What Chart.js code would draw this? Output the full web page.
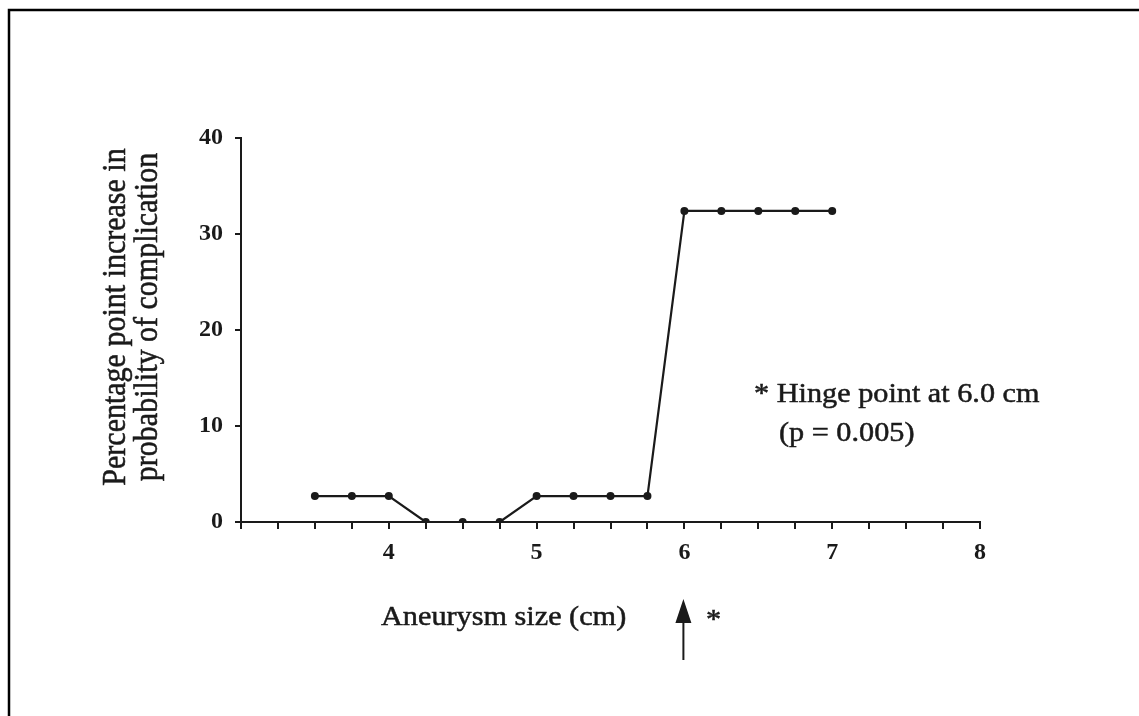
<!DOCTYPE html>
<html>
<head>
<meta charset="utf-8">
<script src="https://cdn.jsdelivr.net/npm/chart.js@4/dist/chart.umd.min.js"></script>
<style>
    body { margin: 0; background: #fff; }
    canvas { display: block; }
</style>
</head>
<body>
<canvas id="chart" width="1139" height="716"></canvas>
<script>
// values
const sizes = [3.5, 3.75, 4, 4.25, 4.5, 4.75, 5, 5.25, 5.5, 5.75, 6, 6.25, 6.5, 6.75, 7];
const increase = [2.7, 2.7, 2.7, 0, 0, 0, 2.7, 2.7, 2.7, 2.7, 32.4, 32.4, 32.4, 32.4, 32.4];
const xLabels = [4, 5, 6, 7, 8];
const yLabels = [0, 10, 20, 30, 40];
const hingeAt = 6;

const ink = '#1a1a1a';
const serif = '"Liberation Serif", "DejaVu Serif", serif';
const stretch = 1.12; // the scanned figure is a bit wider than tall

// draw text a bit wider and heavier, like the scan
function wideText(ctx, text, x, y, size) {
    ctx.save();
    ctx.translate(x, y);
    ctx.scale(stretch, 1);
    ctx.font = size + 'px ' + serif;
    ctx.fillText(text, 0, 0);
    ctx.lineWidth = 0.5;
    ctx.strokeText(text, 0, 0);
    ctx.restore();
}

// texts, frame and arrow that sit outside the axes
const extras = {
    id: 'extras',
    afterDraw(chart) {
        const ctx = chart.ctx;
        const x = chart.scales.x;
        ctx.save();
        ctx.fillStyle = ink;
        ctx.strokeStyle = '#000';

        // frame (top and left only)
        ctx.lineWidth = 2.5;
        ctx.beginPath();
        ctx.moveTo(9, 716);
        ctx.lineTo(9, 10);
        ctx.lineTo(1139, 10);
        ctx.stroke();

        ctx.strokeStyle = ink;
        ctx.textBaseline = 'alphabetic';
        ctx.textAlign = 'left';
        wideText(ctx, 'Aneurysm size (cm)', 381, 625, 27);
        wideText(ctx, '* Hinge point at 6.0 cm', 754, 402, 27);
        wideText(ctx, '(p = 0.005)', 779, 441, 27);
        wideText(ctx, '*', 706, 628, 27);

        // y axis title, two lines, rotated
        const yTitle = ['Percentage point increase in', 'probability of complication'];
        yTitle.forEach((line, i) => {
            ctx.save();
            ctx.translate(125 + i * 32, 317);
            ctx.rotate(-Math.PI / 2);
            ctx.scale(1, stretch);
            ctx.textAlign = 'center';
            ctx.font = '30px ' + serif;
            ctx.fillText(line, 0, 0);
            ctx.lineWidth = 0.5;
            ctx.strokeText(line, 0, 0);
            ctx.restore();
        });

        // arrow under the hinge point
        const ax = x.getPixelForValue(hingeAt) - 1;
        ctx.lineWidth = 2;
        ctx.beginPath();
        ctx.moveTo(ax, 660);
        ctx.lineTo(ax, 615);
        ctx.stroke();
        ctx.beginPath();
        ctx.moveTo(ax, 599);
        ctx.lineTo(ax - 8, 623);
        ctx.lineTo(ax + 8, 623);
        ctx.closePath();
        ctx.fill();
        ctx.restore();
    }
};

const points = sizes.map((s, i) => ({ x: s, y: increase[i] }));

new Chart(document.getElementById('chart'), {
    type: 'line',
    data: {
        datasets: [{
            data: points,
            borderColor: ink,
            backgroundColor: ink,
            borderWidth: 2.2,
            pointRadius: 4,
            pointBorderWidth: 0,
            tension: 0
        }]
    },
    options: {
        responsive: false,
        animation: false,
        layout: { padding: { left: 0, top: 138, right: 159, bottom: 0 } },
        plugins: {
            legend: { display: false },
            tooltip: { enabled: false }
        },
        scales: {
            x: {
                type: 'linear',
                min: 3,
                max: 8,
                afterFit: scale => { scale.height = 194; },
                border: { display: true, color: ink, width: 2 },
                grid: { drawOnChartArea: false, drawTicks: true, tickLength: 7, color: ink, lineWidth: 2 },
                ticks: {
                    stepSize: 0.25,
                    autoSkip: false,
                    maxRotation: 0,
                    padding: 9,
                    color: ink,
                    font: { family: serif, size: 24, weight: 'bold' },
                    callback: v => xLabels.includes(v) ? String(v) : ''
                }
            },
            y: {
                min: 0,
                max: 40,
                afterFit: scale => { scale.width = 241; },
                border: { display: true, color: ink, width: 2 },
                grid: { drawOnChartArea: false, drawTicks: true, tickLength: 6, color: ink, lineWidth: 2 },
                ticks: {
                    stepSize: 10,
                    padding: 12,
                    color: ink,
                    font: { family: serif, size: 24, weight: 'bold' },
                    callback: v => yLabels.includes(v) ? String(v) : ''
                }
            }
        }
    },
    plugins: [extras]
});
</script>
</body>
</html>
